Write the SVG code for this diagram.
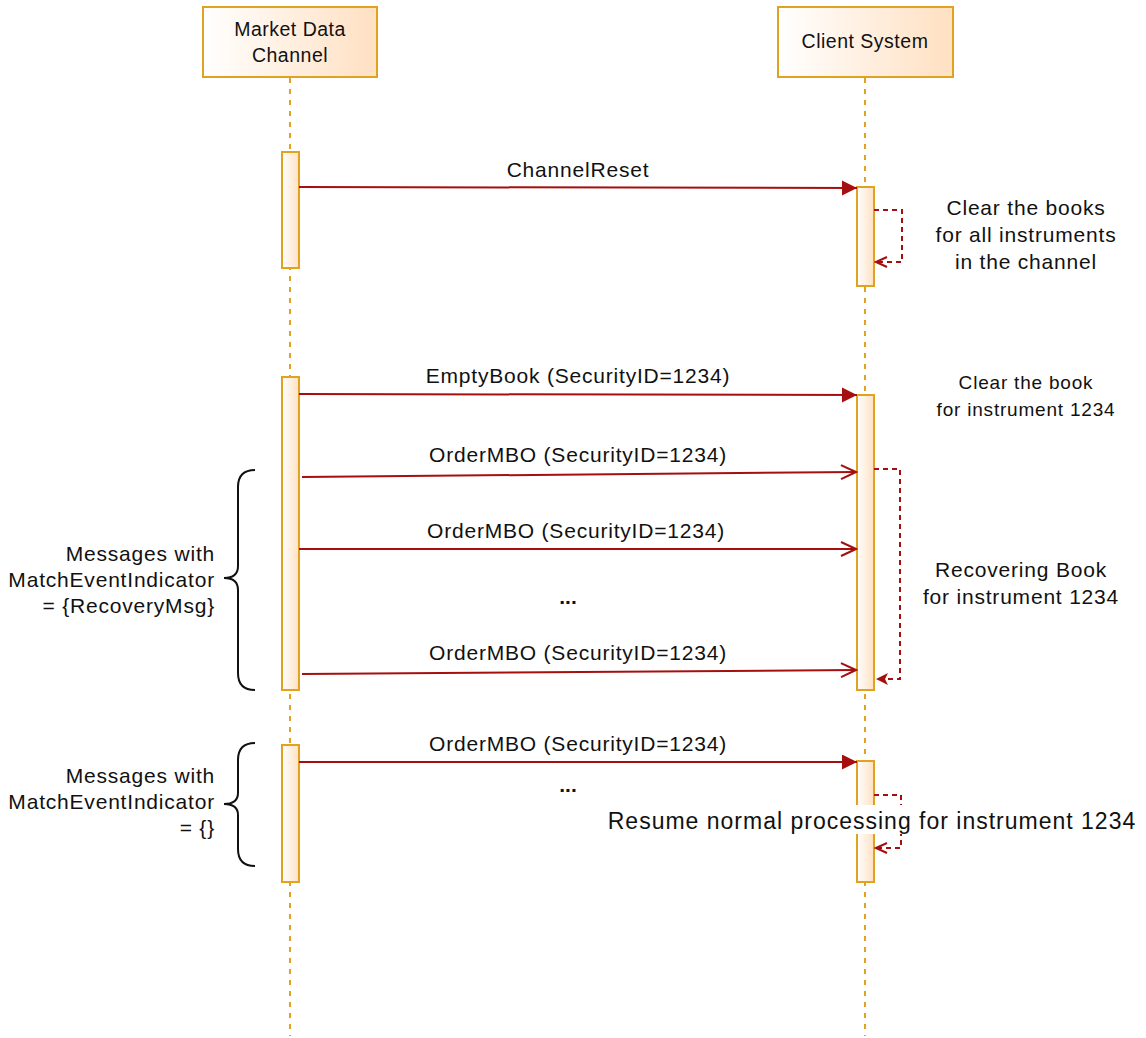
<svg xmlns="http://www.w3.org/2000/svg" width="1146" height="1038" viewBox="0 0 1146 1038">
<style>
.hdr{fill:url(#g);stroke:#e0a21f;stroke-width:2}
.act{fill:url(#g);stroke:#e0a21f;stroke-width:2}
.life{stroke:#e0a21f;stroke-width:2;stroke-dasharray:5 6;fill:none}
.msg{stroke:#a50f0f;stroke-width:2;fill:none}
.ret{stroke:#a50f0f;stroke-width:2;fill:none;stroke-dasharray:5 4}
.brace{stroke:#111;stroke-width:2;fill:none}
text{font-family:"Liberation Sans",Arial,sans-serif;fill:#111}
.h{font-size:19.5px;letter-spacing:0.5px;text-anchor:middle}
.t{font-size:21px;letter-spacing:0.8px;text-anchor:middle}
.b{font-size:23px;letter-spacing:1px;text-anchor:middle}
.s{font-size:19px;letter-spacing:0.8px;text-anchor:middle}
.r{font-size:21px;letter-spacing:0.8px;text-anchor:end}
.d{font-size:21px;font-weight:bold;text-anchor:middle}
</style>
<defs>
<linearGradient id="g" x1="0" y1="0" x2="1" y2="0">
<stop offset="0" stop-color="#ffffff"/>
<stop offset="1" stop-color="#ffe0c2"/>
</linearGradient>
<marker id="fill" markerUnits="userSpaceOnUse" markerWidth="16" markerHeight="16" refX="15" refY="7.5" orient="auto" viewBox="0 0 16 16">
<path d="M0,0 L15,7.5 L0,15 z" fill="#a50f0f"/>
</marker>
<marker id="open" markerUnits="userSpaceOnUse" markerWidth="18" markerHeight="18" refX="16" refY="8" orient="auto" viewBox="0 0 18 18">
<path d="M1,1 L16,8 L1,15" fill="none" stroke="#a50f0f" stroke-width="2"/>
</marker>
<marker id="sopen" markerUnits="userSpaceOnUse" markerWidth="14" markerHeight="14" refX="12" refY="6" orient="auto" viewBox="0 0 14 14">
<path d="M1,1 L12,6 L1,11" fill="none" stroke="#a50f0f" stroke-width="2"/>
</marker>
<marker id="sfill" markerUnits="userSpaceOnUse" markerWidth="14" markerHeight="14" refX="12" refY="6" orient="auto" viewBox="0 0 14 14">
<path d="M0,0 L12,6 L0,12 L3,6 z" fill="#a50f0f"/>
</marker>
</defs>
<rect width="1146" height="1038" fill="#fff"/>

<g id="lifelines">
<line class="life" x1="290" y1="78" x2="290" y2="1036"/>
<line class="life" x1="865" y1="78" x2="865" y2="1036"/>
</g>

<g id="market-data-channel">
<rect class="hdr" x="203" y="7" width="174" height="70"/>
<text class="h" x="290" y="36">Market Data</text>
<text class="h" x="290" y="62">Channel</text>
</g>
<g id="client-system">
<rect class="hdr" x="778" y="7" width="175" height="70"/>
<text class="h" x="865" y="48">Client System</text>
</g>

<g id="activations">
<rect class="act" x="282" y="152" width="17" height="116"/>
<rect class="act" x="282" y="377" width="17" height="313"/>
<rect class="act" x="282" y="745" width="17" height="137"/>
<rect class="act" x="857" y="187" width="17" height="99"/>
<rect class="act" x="857" y="395" width="17" height="295"/>
<rect class="act" x="857" y="761" width="17" height="121"/>
</g>

<g id="connectors">
<line class="msg" x1="299" y1="187" x2="857" y2="188" marker-end="url(#fill)"/>
<polyline class="ret" points="874,210 902,210 902,262 876,262" marker-end="url(#sopen)"/>
<line class="msg" x1="299" y1="394" x2="857" y2="395" marker-end="url(#fill)"/>
<line class="msg" x1="302" y1="477" x2="856" y2="472" marker-end="url(#open)"/>
<line class="msg" x1="299" y1="549" x2="856" y2="549" marker-end="url(#open)"/>
<line class="msg" x1="302" y1="674" x2="856" y2="670" marker-end="url(#open)"/>
<polyline class="ret" points="874,469 900,469 900,679 876,679" marker-end="url(#sfill)"/>
<line class="msg" x1="299" y1="762" x2="857" y2="762" marker-end="url(#fill)"/>
<polyline class="ret" points="874,795 901,795 901,848 876,848" marker-end="url(#sopen)"/>
</g>

<g id="labels">
<text class="t" x="578" y="177">ChannelReset</text>
<text class="t" x="578" y="383">EmptyBook (SecurityID=1234)</text>
<text class="t" x="578" y="462">OrderMBO (SecurityID=1234)</text>
<text class="t" x="576" y="538">OrderMBO (SecurityID=1234)</text>
<text class="d" x="568" y="604">...</text>
<text class="t" x="578" y="660">OrderMBO (SecurityID=1234)</text>
<text class="t" x="578" y="751">OrderMBO (SecurityID=1234)</text>
<text class="d" x="568" y="792">...</text>
</g>

<g id="note-clear-books">
<text class="t" x="1026" y="215">Clear the books</text>
<text class="t" x="1026" y="242">for all instruments</text>
<text class="t" x="1026" y="269">in the channel</text>
</g>
<g id="note-clear-book">
<text class="s" x="1026" y="389">Clear the book</text>
<text class="s" x="1026" y="416">for instrument 1234</text>
</g>
<g id="note-recovering">
<text class="t" x="1021" y="577">Recovering Book</text>
<text class="t" x="1021" y="604">for instrument 1234</text>
</g>
<g id="note-resume">
<rect x="602" y="805" width="540" height="29" fill="#fff"/>
<text class="b" x="872" y="829">Resume normal processing for instrument 1234</text>
</g>

<g id="brace-recovery">
<path class="brace" d="M255,470 Q238,470 238,487 L238,566 Q238,578 224,578 Q238,578 238,590 L238,673 Q238,690 255,690"/>
<text class="r" x="215" y="561">Messages with</text>
<text class="r" x="215" y="587">MatchEventIndicator</text>
<text class="r" x="215" y="613">= {RecoveryMsg}</text>
</g>
<g id="brace-normal">
<path class="brace" d="M255,743 Q238,743 238,760 L238,793 Q238,804 224,804 Q238,804 238,815 L238,849 Q238,866 255,866"/>
<text class="r" x="215" y="783">Messages with</text>
<text class="r" x="215" y="809">MatchEventIndicator</text>
<text class="r" x="215" y="835">= {}</text>
</g>
</svg>
